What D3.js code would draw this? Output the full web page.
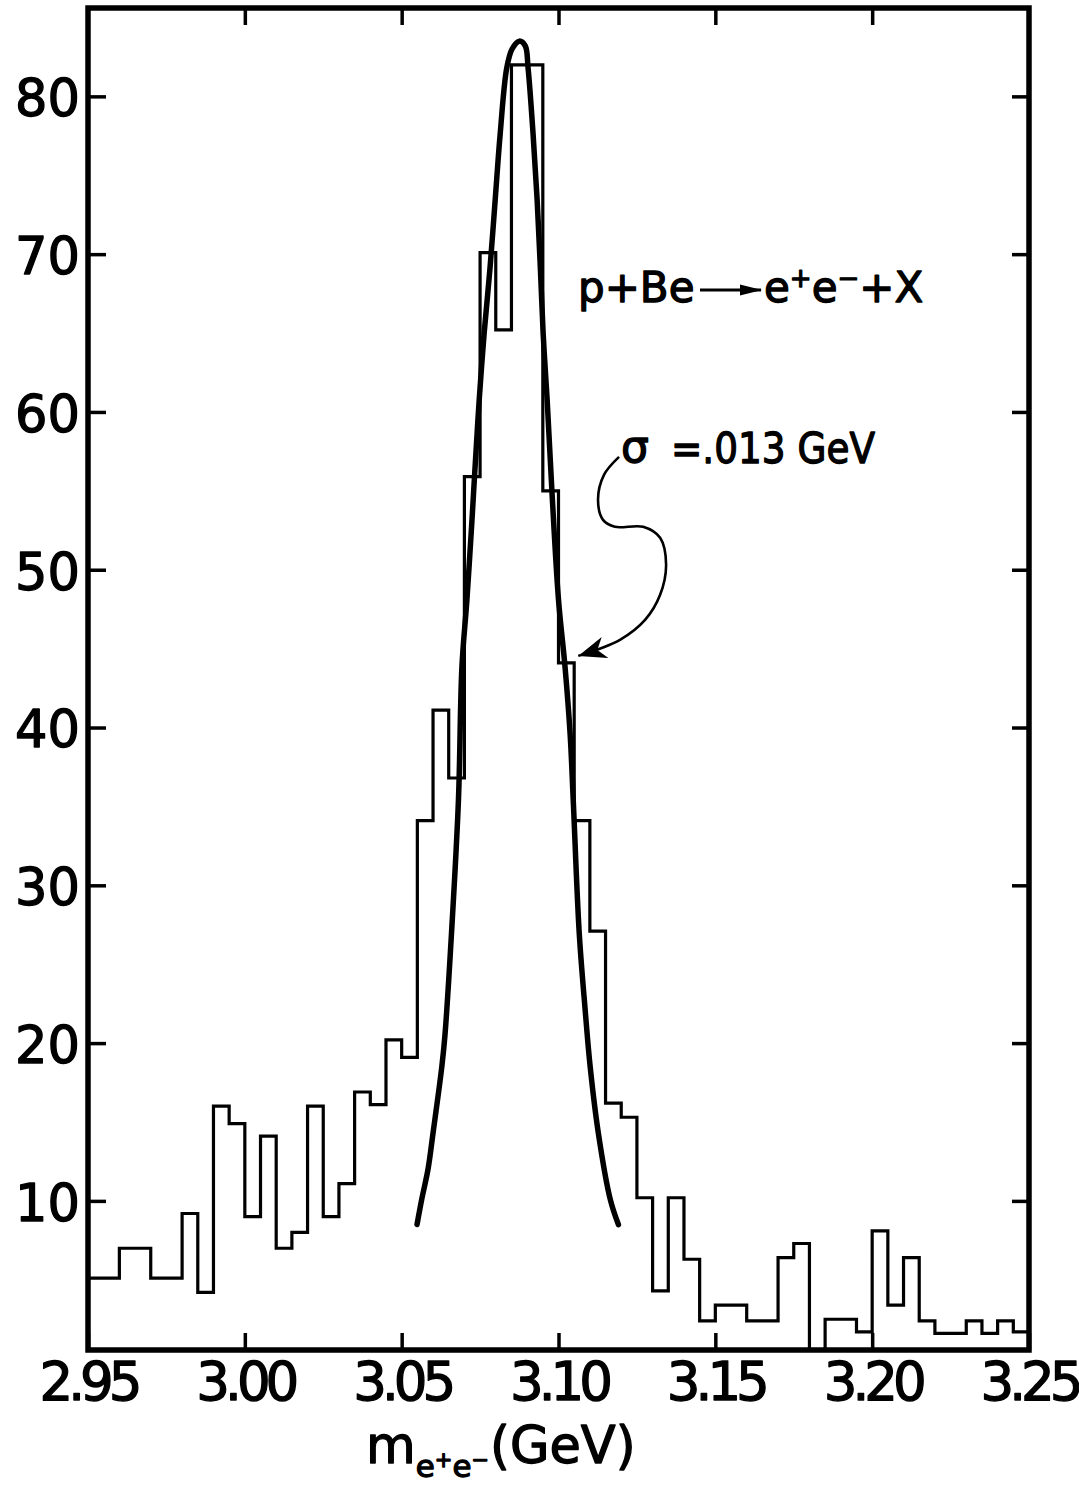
<!DOCTYPE html>
<html>
<head>
<meta charset="utf-8">
<script src="https://cdn.jsdelivr.net/npm/d3@7/dist/d3.min.js"></script>
<style>
  html, body { margin: 0; padding: 0; background: #fff; }
  svg { display: block; font-family: "DejaVu Sans", sans-serif; }
  .lettering { fill: #000; stroke: #000; stroke-width: 1.3px; stroke-linejoin: round; }
</style>
</head>
<body>
<svg id="chart" width="1079" height="1487"></svg>
<script>
// Dielectron invariant-mass spectrum, 5 MeV bins from 2.95 to 3.25 GeV
const binStart = 2.95;
const binWidth = 0.005;
const counts = [
  5.1, 5.1, 7.0, 7.0, 5.1, 5.1, 9.2, 4.2, 16.0, 14.9,
  9.0, 14.1, 7.0, 8.0, 16.0, 9.0, 11.1, 16.9, 16.1, 20.2,
  19.1, 34.1, 41.1, 36.8, 55.9, 70.1, 65.2, 82.0, 82.0, 55.0,
  44.1, 34.1, 27.1, 16.2, 15.3, 10.2, 4.3, 10.2, 6.3, 2.4,
  3.4, 3.4, 2.4, 2.4, 6.4, 7.3, 0, 2.5, 2.5, 1.7,
  8.1, 3.4, 6.4, 2.4, 1.6, 1.6, 2.4, 1.6, 2.4, 1.7
];

// Resolution curve (sigma = .013 GeV) traced as mass / counts pairs
const fitMass = [
  3.0549, 3.0564, 3.0584, 3.0600, 3.0628, 3.0638, 3.0659, 3.0681, 3.0692, 3.0708,
  3.0724, 3.0734, 3.0747, 3.0763, 3.0782, 3.0798, 3.0814, 3.0835, 3.0852, 3.0875,
  3.0894, 3.0903, 3.0919, 3.0932, 3.0942, 3.0951, 3.0964, 3.0979, 3.1000, 3.1021,
  3.1037, 3.1047, 3.1066, 3.1085, 3.1101, 3.1127, 3.1165, 3.1191
];
const fitCounts = [
  8.5, 10.1, 12.0, 14.3, 18.5, 20.5, 27.0, 35.4, 43.8, 48.1,
  53.1, 56.5, 60.7, 65.0, 69.2, 73.4, 77.6, 81.8, 83.0, 83.5,
  83.2, 81.8, 77.6, 73.4, 69.2, 65.0, 60.7, 55.0, 48.1, 43.8,
  39.6, 35.4, 27.0, 22.1, 18.5, 14.3, 10.1, 8.5
];

// Axis ticks
const xTicks = [2.95, 3.00, 3.05, 3.10, 3.15, 3.20, 3.25];
const xTickLabels = ["2.95", "3.00", "3.05", "3.10", "3.15", "3.20", "3.25"];
const xInnerTicks = [3.00, 3.05, 3.10, 3.15, 3.20];
const yTicks = [10, 20, 30, 40, 50, 60, 70, 80];

// Annotation leader from the sigma label to the curve (mass, counts)
const leaderPath = [
  [3.1193, 57.15], [3.1145, 56.01], [3.1126, 54.43], [3.1142, 53.16],
  [3.1180, 52.72], [3.1270, 52.72], [3.1324, 52.02], [3.1343, 50.31],
  [3.1324, 48.41], [3.1276, 46.82], [3.1196, 45.56], [3.1063, 44.54]
];

const svg = d3.select("#chart");
const plotLeft = 88, plotRight = 1029, plotTop = 8, plotBottom = 1350;

const x = d3.scaleLinear().domain([2.95, 3.25]).range([plotLeft, plotRight]);
const y = d3.scaleLinear().domain([0.55, 85.6]).range([plotBottom, plotTop]);

const defs = svg.append("defs");
defs.append("clipPath").attr("id", "plotClip")
  .append("rect").attr("x", plotLeft).attr("y", plotTop)
  .attr("width", plotRight - plotLeft).attr("height", plotBottom - plotTop);
defs.append("marker").attr("id", "barb")
  .attr("markerUnits", "userSpaceOnUse")
  .attr("viewBox", "0 -12 30 24").attr("refX", 28).attr("refY", 0)
  .attr("markerWidth", 30).attr("markerHeight", 24).attr("orient", "auto")
  .append("path").attr("d", "M0,-11 L28,0 L0,11 L8,0 Z").attr("fill", "#000");
defs.append("marker").attr("id", "slim")
  .attr("markerUnits", "userSpaceOnUse")
  .attr("viewBox", "0 -6 22 12").attr("refX", 21).attr("refY", 0)
  .attr("markerWidth", 22).attr("markerHeight", 12).attr("orient", "auto")
  .append("path").attr("d", "M0,-5.5 L22,0 L0,5.5 Z").attr("fill", "#000");

// Histogram outline
const steps = counts.map((c, i) => [binStart + i * binWidth, c]);
steps.push([binStart + counts.length * binWidth, counts[counts.length - 1]]);
svg.append("path")
  .datum(steps)
  .attr("clip-path", "url(#plotClip)")
  .attr("fill", "none").attr("stroke", "#000").attr("stroke-width", 3.2)
  .attr("stroke-linejoin", "miter")
  .attr("d", d3.line().x(d => x(d[0])).y(d => y(d[1])).curve(d3.curveStepAfter));

// Resolution curve
svg.append("path")
  .datum(fitMass.map((m, i) => [m, fitCounts[i]]))
  .attr("fill", "none").attr("stroke", "#000").attr("stroke-width", 5.5)
  .attr("stroke-linecap", "round").attr("stroke-linejoin", "round")
  .attr("d", d3.line().x(d => x(d[0])).y(d => y(d[1])).curve(d3.curveCatmullRom.alpha(0.5)));

// Ticks on all four sides, pointing inward
function styleAxis(g) {
  g.select(".domain").remove();
  g.selectAll(".tick line").attr("stroke", "#000").attr("stroke-width", 3.5);
}
svg.append("g").attr("transform", `translate(${plotLeft},0)`)
  .call(d3.axisLeft(y).tickValues(yTicks).tickSizeInner(-18).tickSizeOuter(0).tickPadding(8))
  .call(styleAxis)
  .call(g => g.selectAll(".tick text")
    .attr("class", "lettering")
    .attr("font-family", "DejaVu Sans, sans-serif").attr("font-size", 51)
    .attr("dy", "0.38em"));
svg.append("g").attr("transform", `translate(${plotRight},0)`)
  .call(d3.axisRight(y).tickValues(yTicks).tickSizeInner(-17).tickSizeOuter(0).tickFormat(""))
  .call(styleAxis);
svg.append("g").attr("transform", `translate(0,${plotTop})`)
  .call(d3.axisTop(x).tickValues(xInnerTicks).tickSizeInner(-17).tickSizeOuter(0).tickFormat(""))
  .call(styleAxis);
svg.append("g").attr("transform", `translate(0,${plotBottom})`)
  .call(d3.axisBottom(x).tickValues(xTicks).tickSizeInner(-17).tickSizeOuter(0).tickPadding(12)
    .tickFormat((d, i) => xTickLabels[i]))
  .call(styleAxis)
  .call(g => g.selectAll(".tick text")
    .attr("class", "lettering")
    .attr("font-family", "DejaVu Sans, sans-serif").attr("font-size", 53)
    .attr("letter-spacing", "-5px"));

// Frame
svg.append("rect")
  .attr("x", plotLeft).attr("y", plotTop)
  .attr("width", plotRight - plotLeft).attr("height", plotBottom - plotTop)
  .attr("fill", "none").attr("stroke", "#000").attr("stroke-width", 5.5);

// Reaction label
svg.append("text").attr("class", "lettering").attr("x", 578).attr("y", 302)
  .attr("font-size", 42).text("p+Be");
svg.append("line").attr("x1", 700).attr("y1", 290).attr("x2", 761).attr("y2", 290)
  .attr("stroke", "#000").attr("stroke-width", 3).attr("marker-end", "url(#slim)");
const rx = svg.append("text").attr("class", "lettering").attr("x", 764).attr("y", 302)
  .attr("font-size", 42);
rx.append("tspan").text("e");
rx.append("tspan").attr("dy", -15).attr("font-size", 26).text("+");
rx.append("tspan").attr("dy", 15).text("e");
rx.append("tspan").attr("dy", -15).attr("font-size", 26).text("−");
rx.append("tspan").attr("dy", 15).text("+X");

// Width label and its leader arrow
svg.append("text").attr("class", "lettering").attr("x", 621).attr("y", 462)
  .attr("font-size", 44).text("σ");
svg.append("text").attr("class", "lettering").attr("x", 671).attr("y", 463)
  .attr("font-size", 42)
  .attr("textLength", 204).attr("lengthAdjust", "spacingAndGlyphs")
  .text("=.013 GeV");
svg.append("path")
  .datum(leaderPath)
  .attr("fill", "none").attr("stroke", "#000").attr("stroke-width", 2.6)
  .attr("marker-end", "url(#barb)")
  .attr("d", d3.line().x(d => x(d[0])).y(d => y(d[1])).curve(d3.curveCatmullRom.alpha(0.5)));

// Axis title
const tt = svg.append("text").attr("class", "lettering").attr("x", 366).attr("y", 1463)
  .attr("font-size", 51);
tt.append("tspan").text("m");
tt.append("tspan").attr("dy", 14).attr("font-size", 31).text("e");
tt.append("tspan").attr("dy", -10).attr("font-size", 21).text("+");
tt.append("tspan").attr("dy", 10).attr("font-size", 31).text("e");
tt.append("tspan").attr("dy", -10).attr("font-size", 21).text("−");
tt.append("tspan").attr("dy", -4).attr("dx", 1).text("(GeV)");
</script>
</body>
</html>
